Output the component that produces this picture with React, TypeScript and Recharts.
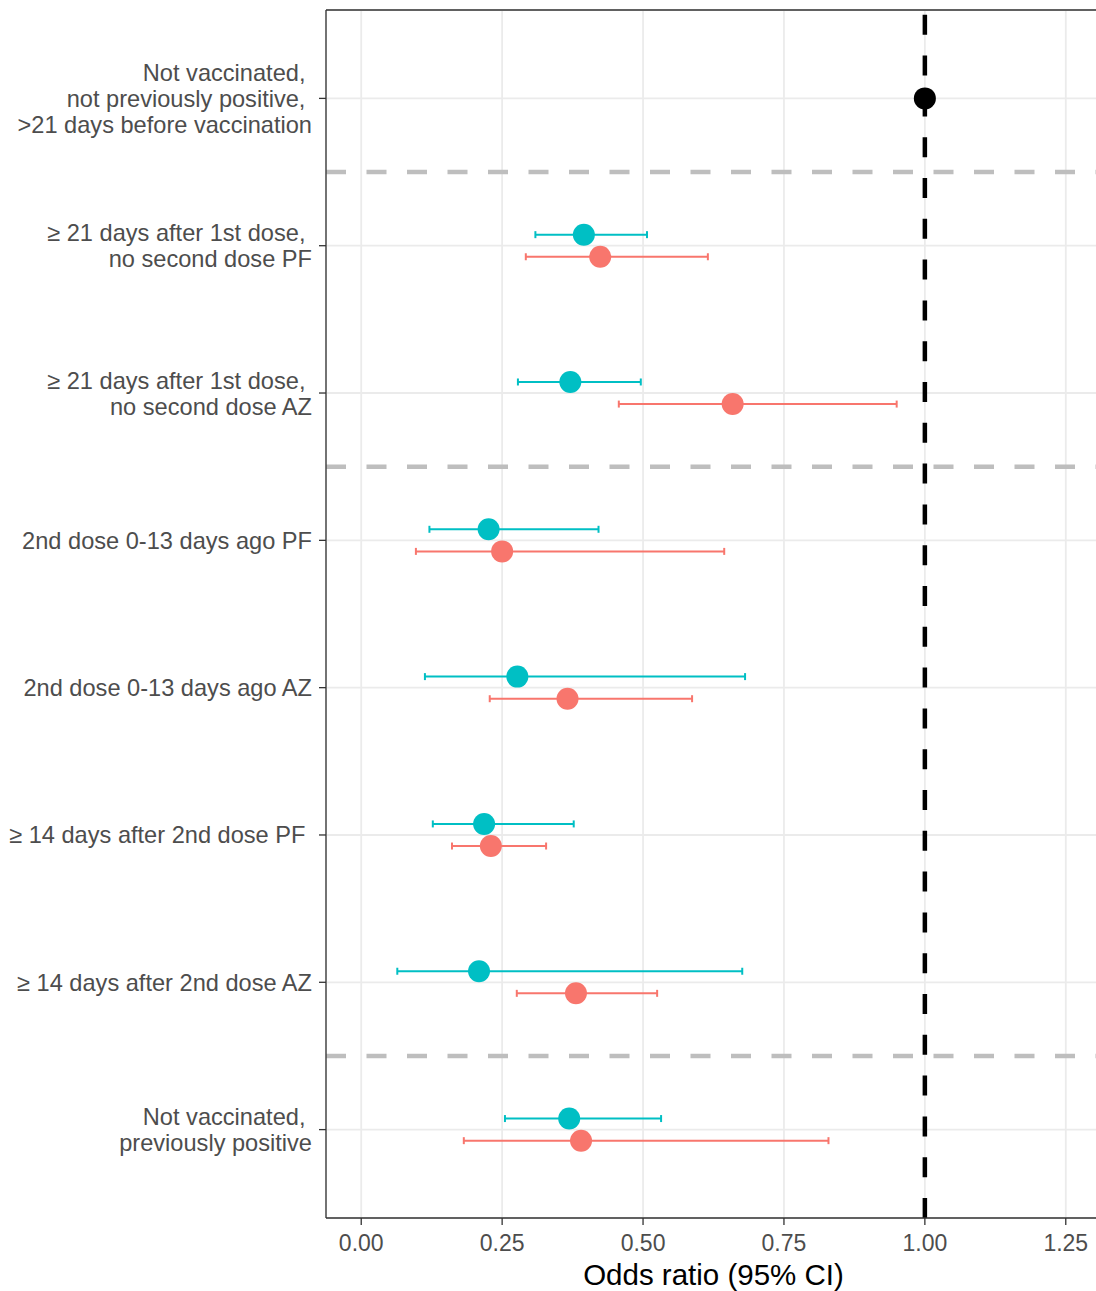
import React from 'react';
import {
  ScatterChart,
  Scatter,
  XAxis,
  YAxis,
  CartesianGrid,
  ReferenceLine,
  ErrorBar,
} from 'recharts';

// Category labels (row 1 at top), lines of each label
const categoryLabels: string[][] = [
  ['Not vaccinated, ', 'not previously positive, ', '>21 days before vaccination'],
  ['\u2265 21 days after 1st dose, ', 'no second dose PF'],
  ['\u2265 21 days after 1st dose, ', 'no second dose AZ'],
  ['2nd dose 0-13 days ago PF'],
  ['2nd dose 0-13 days ago AZ'],
  ['\u2265 14 days after 2nd dose PF '],
  ['\u2265 14 days after 2nd dose AZ'],
  ['Not vaccinated, ', 'previously positive'],
];
const rowTicks = [1, 2, 3, 4, 5, 6, 7, 8];

// Reference category (row 1)
const refRow = [1];
const refOR = [1.0];

// Rows 2..8 for the two coloured series
const seriesRows = [2, 3, 4, 5, 6, 7, 8];

// Teal series
const tealOR = [0.395, 0.371, 0.226, 0.277, 0.218, 0.209, 0.369];
const tealLow = [0.309, 0.278, 0.121, 0.113, 0.127, 0.064, 0.255];
const tealHigh = [0.507, 0.496, 0.421, 0.681, 0.377, 0.676, 0.532];

// Salmon series
const salmonOR = [0.424, 0.659, 0.25, 0.366, 0.23, 0.381, 0.39];
const salmonLow = [0.292, 0.457, 0.097, 0.228, 0.161, 0.276, 0.182];
const salmonHigh = [0.615, 0.95, 0.644, 0.587, 0.328, 0.525, 0.829];

// Axis ticks
const xMajorTicks = [0, 0.25, 0.5, 0.75, 1.0, 1.25];
const xMinorTicks = [0.125, 0.375, 0.625, 0.875, 1.125];
const xDomain = [-0.0625, 1.3125];
const yDomain = [0.4, 8.6];
const separatorRows = [1.5, 3.5, 7.5];

const DODGE = 0.075;
const TEAL = '#00BFC4';
const SALMON = '#F8766D';
const FONT = '"Liberation Sans", Arial, Helvetica, sans-serif';

const tealData = seriesRows.map((r, i) => ({
  x: tealOR[i],
  y: r - DODGE,
  err: [tealOR[i] - tealLow[i], tealHigh[i] - tealOR[i]],
}));
const salmonData = seriesRows.map((r, i) => ({
  x: salmonOR[i],
  y: r + DODGE,
  err: [salmonOR[i] - salmonLow[i], salmonHigh[i] - salmonOR[i]],
}));
const refData = refRow.map((r, i) => ({ x: refOR[i], y: r }));

const YTick = (props: any) => {
  const { x, y, payload } = props;
  const lines = categoryLabels[(payload.value as number) - 1] || [];
  const n = lines.length;
  const lh = 26;
  return (
    <text
      x={x}
      y={y}
      textAnchor="end"
      fill="#4D4D4D"
      fontSize={23.6}
      fontFamily={FONT}
      xmlSpace="preserve"
      style={{ whiteSpace: 'pre' }}
    >
      {lines.map((l, i) => (
        <tspan key={i} x={x} y={y + 8.5 + (i - (n - 1) / 2) * lh}>
          {l}
        </tspan>
      ))}
    </text>
  );
};

const XTick = (props: any) => {
  const { x, y, payload } = props;
  return (
    <text x={x} y={y + 25.5} textAnchor="middle" fill="#4D4D4D" fontSize={23} fontFamily={FONT}>
      {(payload.value as number).toFixed(2)}
    </text>
  );
};

const dot = (color: string) => (p: any) => (
  <circle cx={p.cx} cy={p.cy} r={11} fill={color} stroke="none" />
);

export default function App() {
  return (
    <div style={{ position: 'absolute', left: 0, top: 0, width: 1096, height: 1291, overflow: 'hidden', background: '#fff' }}>
      <ScatterChart
        width={1102}
        height={1291}
        margin={{ top: 0, right: 1, bottom: 0, left: 0 }}
        style={{ background: '#fff' }}
      >
        <CartesianGrid
          xAxisId="minor"
          horizontal={false}
          stroke="#EBEBEB"
          strokeWidth={0.9}
        />
        <CartesianGrid stroke="#EBEBEB" strokeWidth={1.8} />
        <XAxis
          xAxisId="minor"
          orientation="top"
          type="number"
          dataKey="x"
          domain={xDomain}
          allowDataOverflow
          ticks={xMinorTicks}
          tick={false}
          tickLine={false}
          axisLine={{ stroke: '#333333', strokeWidth: 1.3 }}
          height={10}
        />
        <XAxis
          type="number"
          dataKey="x"
          domain={xDomain}
          allowDataOverflow
          ticks={xMajorTicks}
          interval={0}
          tick={<XTick />}
          tickSize={7}
          tickMargin={0}
          tickLine={{ stroke: '#333333', strokeWidth: 1.3 }}
          axisLine={{ stroke: '#333333', strokeWidth: 1.3 }}
          height={73}
          label={{
            content: (lp: any) => {
              const vb = lp.viewBox;
              return (
                <text
                  x={vb.x + vb.width / 2}
                  y={vb.y + 66.5}
                  textAnchor="middle"
                  fill="#000000"
                  fontSize={29.5}
                  fontFamily={FONT}
                >
                  Odds ratio (95% CI)
                </text>
              );
            },
          }}
        />
        <YAxis
          type="number"
          dataKey="y"
          domain={yDomain}
          allowDataOverflow
          reversed
          ticks={rowTicks}
          interval={0}
          width={326}
          tick={<YTick />}
          tickSize={7}
          tickMargin={7}
          tickLine={{ stroke: '#333333', strokeWidth: 1.3 }}
          axisLine={{ stroke: '#333333', strokeWidth: 1.3 }}
        />
        {separatorRows.map((v) => (
          <ReferenceLine
            key={v}
            y={v}
            stroke="#BEBEBE"
            strokeWidth={4.5}
            strokeDasharray="20 20.5"
          />
        ))}
        <ReferenceLine x={1} stroke="#000000" strokeWidth={4.5} strokeDasharray="20 20.8" />
        <Scatter data={tealData} fill={TEAL} shape={dot(TEAL)} isAnimationActive={false}>
          <ErrorBar dataKey="err" direction="x" width={3.5} stroke={TEAL} strokeWidth={2} />
        </Scatter>
        <Scatter data={salmonData} fill={SALMON} shape={dot(SALMON)} isAnimationActive={false}>
          <ErrorBar dataKey="err" direction="x" width={3.5} stroke={SALMON} strokeWidth={2} />
        </Scatter>
        <Scatter data={refData} fill="#000000" shape={dot('#000000')} isAnimationActive={false} />
      </ScatterChart>
    </div>
  );
}
